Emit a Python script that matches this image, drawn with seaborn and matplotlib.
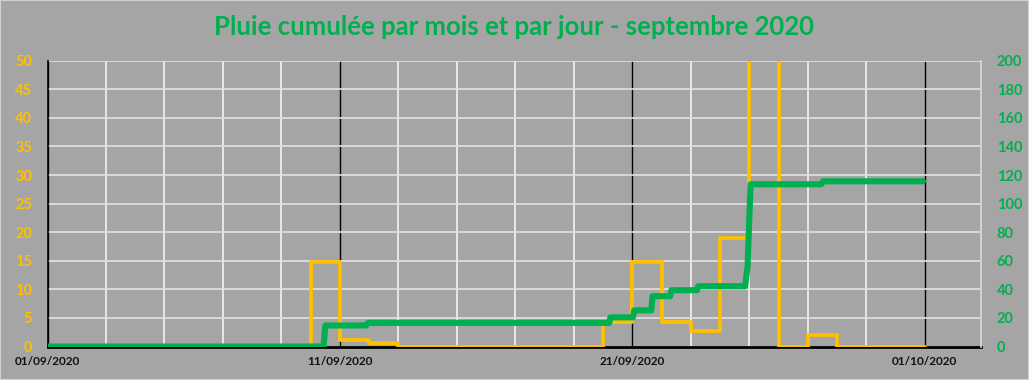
import matplotlib
matplotlib.use("Agg")
import matplotlib.pyplot as plt
import matplotlib.dates as mdates
from matplotlib.ticker import FixedLocator, MultipleLocator
from matplotlib.patches import Rectangle
import seaborn as sns
import pandas as pd

# ---------------- data ----------------
days = pd.date_range("2020-09-01", "2020-10-01", freq="D")
daily_rain = [0, 0, 0, 0, 0, 0, 0, 0, 0,          # 1-9
              14.8, 1.1, 0.6, 0,                  # 10-13
              0, 0, 0, 0, 0, 0,                   # 14-19
              4.2, 14.7, 4.2, 2.7, 18.9, 52.4,    # 20-25
              0, 2.0, 0, 0, 0,                    # 26-30
              0]                                  # 01/10 (end of step)

cum_times = pd.to_datetime([
    "2020-09-01 00:00", "2020-09-10 10:30", "2020-09-10 12:00",
    "2020-09-11 21:30", "2020-09-11 23:00",
    "2020-09-20 05:00", "2020-09-20 06:00",
    "2020-09-21 00:30", "2020-09-21 01:30",
    "2020-09-21 15:30", "2020-09-21 16:30",
    "2020-09-22 07:00", "2020-09-22 08:00",
    "2020-09-23 05:00", "2020-09-23 06:00",
    "2020-09-24 20:30", "2020-09-24 22:30", "2020-09-25 01:00",
    "2020-09-27 11:00", "2020-09-27 12:30",
    "2020-09-30 22:30"])
cum_rain = [0, 0, 14.7,
            14.7, 16.5,
            16.5, 20.4,
            20.4, 25.3,
            25.3, 35.2,
            35.2, 39.4,
            39.4, 42.2,
            42.2, 56.0, 113.5,
            113.5, 115.6,
            115.6]

major_dates = ["01/09/2020", "11/09/2020", "21/09/2020", "01/10/2020"]

df_day = pd.DataFrame({"date": days, "pluie": daily_rain})
df_cum = pd.DataFrame({"date": cum_times, "cumul": cum_rain})

# ---------------- style ----------------
BG = "#A5A5A5"
YEL = "#FFC000"
GRN = "#00B050"
sns.set_style("white")
plt.rcParams["font.family"] = ["Lato", "DejaVu Sans"]

fig = plt.figure(figsize=(10.29, 3.80), dpi=100, facecolor=BG)
ax = fig.add_axes([47.5 / 1029, 1 - 346.5 / 380, (981.3 - 47.5) / 1029, (346.5 - 60.7) / 380])
ax.set_facecolor(BG)
fig.patches.append(Rectangle((0, 0), 1, 1, transform=fig.transFigure,
                             fill=False, edgecolor="#D0D0D0", linewidth=1.5, zorder=10))

sns.lineplot(data=df_day, x="date", y="pluie", ax=ax, color=YEL, linewidth=2.7,
             drawstyle="steps-post", estimator=None, zorder=3)

ax2 = ax.twinx()
sns.lineplot(data=df_cum, x="date", y="cumul", ax=ax2, color=GRN, linewidth=4.4,
             estimator=None, solid_capstyle="round", solid_joinstyle="round", zorder=4)

start = pd.Timestamp("2020-09-01")
ax.set_xlim(start, start + pd.Timedelta(days=31.93))
ax.set_ylim(0, 50)
ax2.set_ylim(0, 200)

major = pd.to_datetime(major_dates, format="%d/%m/%Y")
minor = pd.date_range("2020-09-01", periods=17, freq="2D")
ax.xaxis.set_major_locator(FixedLocator(mdates.date2num(major)))
ax.xaxis.set_minor_locator(FixedLocator(mdates.date2num(minor)))
ax.xaxis.set_major_formatter(mdates.DateFormatter("%d/%m/%Y"))
ax.yaxis.set_major_locator(MultipleLocator(5))
ax2.yaxis.set_major_locator(MultipleLocator(20))

ax.set_axisbelow(True)
ax.grid(True, axis="y", which="major", color="#E2E2E2", linewidth=1.2)
ax.grid(True, axis="x", which="minor", color="#F2F2F2", linewidth=1.2)
ax.grid(True, axis="x", which="major", color="black", linewidth=1.0)

for a in (ax, ax2):
    a.set_xlabel("")
    a.set_ylabel("")
    a.spines["top"].set_visible(False)
    a.spines["left"].set_visible(False)
    a.spines["right"].set_visible(False)
    a.spines["bottom"].set_visible(False)
ax.spines["left"].set_visible(True)
ax.spines["left"].set_color("black")
ax.spines["left"].set_linewidth(1.2)
ax.spines["bottom"].set_visible(True)
ax.spines["bottom"].set_color("black")
ax.spines["bottom"].set_linewidth(2.0)
ax2.spines["right"].set_visible(True)
ax2.spines["right"].set_color("#DADADA")
ax2.spines["right"].set_linewidth(1.2)

ax.tick_params(axis="both", which="both", length=0)
ax2.tick_params(axis="both", which="both", length=0)
ax.tick_params(axis="y", pad=11, labelsize=10.5, labelcolor=YEL)
ax2.tick_params(axis="y", pad=11, labelsize=10.5, labelcolor=GRN)
ax.tick_params(axis="x", pad=7, labelsize=8.5, labelcolor="#111111")
for lab in ax.get_yticklabels() + ax2.get_yticklabels() + ax.get_xticklabels():
    lab.set_fontweight("bold")

fig.text(0.5, 1 - 27 / 380, "Pluie cumulée par mois et par jour - septembre 2020",
         ha="center", va="center", fontsize=18.5, fontweight="bold", color=GRN)

fig.savefig("out.png", dpi=100, facecolor=BG)
